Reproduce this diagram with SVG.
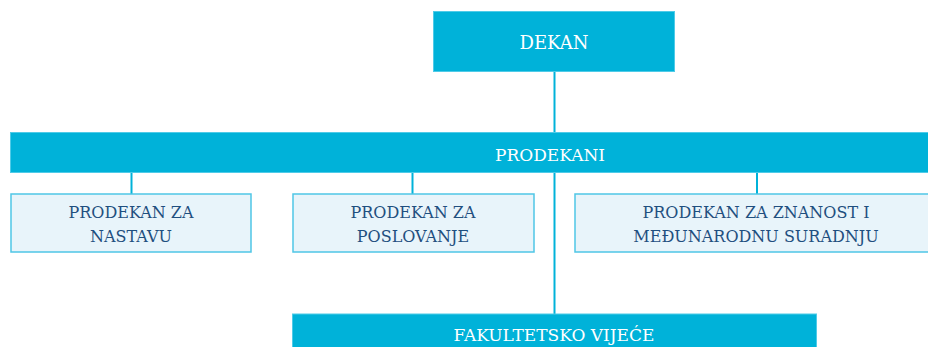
<svg xmlns="http://www.w3.org/2000/svg" width="928" height="347" viewBox="0 0 928 347">
<style>
.dark{fill:#00b2d9;stroke:#4fcbe8;stroke-width:1}
.light{fill:#e8f4fa;stroke:#4fc6e6;stroke-width:1.5}
text{font-family:'DejaVu Serif',serif;text-anchor:middle}
.wt{fill:#ffffff;font-size:17px}
.bt{fill:#1f4f7f;font-size:16px}
.conn{stroke:#00b2d9;stroke-width:2;fill:none}
</style>
<rect width="928" height="347" fill="#ffffff"/>
<g id="connectors">
<line class="conn" x1="554.5" y1="71" x2="554.5" y2="314"/>
<line class="conn" x1="131.5" y1="173" x2="131.5" y2="194"/>
<line class="conn" x1="412.5" y1="173" x2="412.5" y2="194"/>
<line class="conn" x1="757" y1="173" x2="757" y2="194"/>
</g>
<g id="dekan">
<rect class="dark" x="433.5" y="11.5" width="241" height="60"/>
<text class="wt" x="554" y="49" style="font-size:18px">DEKAN</text>
</g>
<g id="prodekani">
<rect class="dark" x="10.5" y="132.5" width="930" height="40"/>
<text class="wt" x="550" y="161">PRODEKANI</text>
</g>
<g id="prodekan-nastava">
<rect class="light" x="11" y="194" width="240" height="58"/>
<text class="bt" x="131" y="218">PRODEKAN ZA</text>
<text class="bt" x="131" y="242">NASTAVU</text>
</g>
<g id="prodekan-poslovanje">
<rect class="light" x="293" y="194" width="241" height="58"/>
<text class="bt" x="413" y="218">PRODEKAN ZA</text>
<text class="bt" x="413" y="242">POSLOVANJE</text>
</g>
<g id="prodekan-znanost">
<rect class="light" x="575" y="194" width="370" height="58"/>
<text class="bt" x="756" y="218">PRODEKAN ZA ZNANOST I</text>
<text class="bt" x="756" y="242">MEĐUNARODNU SURADNJU</text>
</g>
<g id="fakultetsko-vijece">
<rect class="dark" x="292.5" y="314" width="524" height="40"/>
<text class="wt" x="554" y="341">FAKULTETSKO VIJEĆE</text>
</g>
</svg>
